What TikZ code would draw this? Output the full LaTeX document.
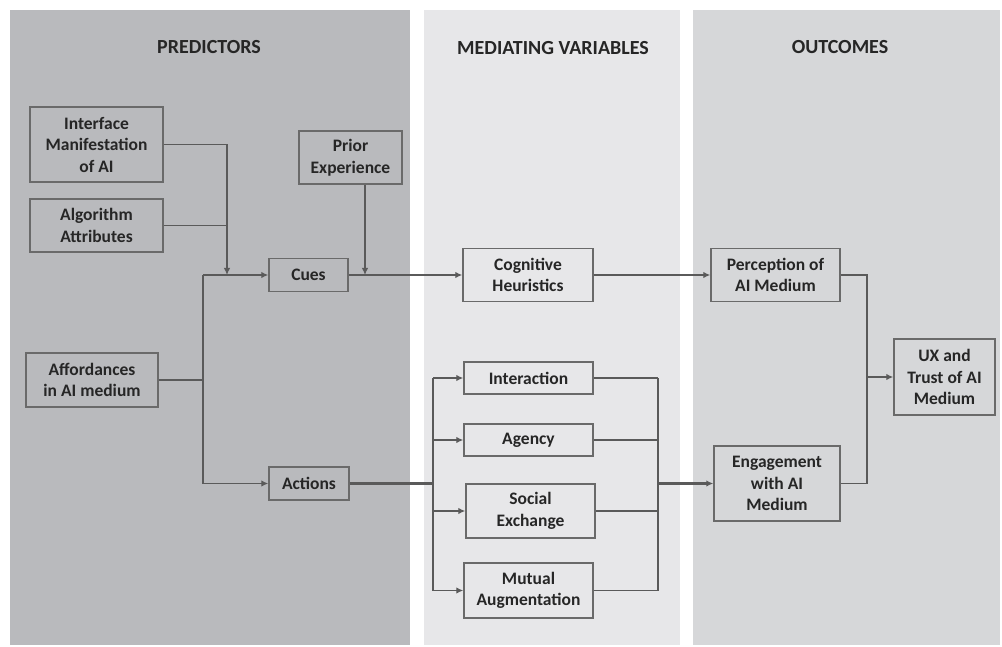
\documentclass[tikz,border=0pt]{standalone}
\usepackage{fontspec}
\setmainfont{Carlito}
\usetikzlibrary{arrows.meta}
\definecolor{pleft}{HTML}{B9BABD}
\definecolor{pmid}{HTML}{E7E7E9}
\definecolor{pright}{HTML}{D6D7D9}
\definecolor{ink}{HTML}{262626}
\definecolor{wire}{HTML}{5A5A5A}
\definecolor{edge}{HTML}{6A6A6A}
\tikzset{
  box/.style={draw=edge, line width=1.5pt, align=center, inner sep=2pt,
    font=\fontsize{17.5}{21.5}\selectfont\bfseries, text=ink},
  head/.style={font=\fontsize{20}{24}\selectfont\bfseries, text=ink},
  wireline/.style={draw=wire, line width=1.2pt},
  thickwire/.style={draw=wire, line width=2.4pt},
  arr/.style={-{Latex[length=7pt,width=6.5pt]}},
}
\begin{document}
\begin{tikzpicture}[x=1pt,y=-1pt]
\useasboundingbox (0,0) rectangle (1002,647);
\fill[white] (0,0) rectangle (1002,647);
% panels
\fill[pleft] (10,10) rectangle (410,645);
\fill[pmid] (424,10) rectangle (680,645);
\fill[pright] (693,10) rectangle (1000,645);
% headings
\node[head] (h1) at (209,47) {PREDICTORS};
\node[head] (h2) at (553,48) {MEDIATING VARIABLES};
\node[head] (h3) at (840,47) {OUTCOMES};
% nodes
\node[box, minimum width=133pt, minimum height=75pt] (ima) at (96.5,144.5) {Interface\\Manifestation\\of AI};
\node[box, minimum width=133pt, minimum height=53pt] (alg) at (96.5,225.5) {Algorithm\\Attributes};
\node[box, minimum width=103pt, minimum height=53pt] (pri) at (350.5,157.5) {Prior\\Experience};
\node[box, minimum width=79pt, minimum height=33pt] (cue) at (308.5,275) {Cues};
\node[box, minimum width=132pt, minimum height=54pt] (aff) at (92,380) {Affordances\\in AI medium};
\node[box, minimum width=80pt, minimum height=33pt] (act) at (309,483.5) {Actions};
\node[box, minimum width=130pt, minimum height=53pt] (cog) at (528,275) {Cognitive\\Heuristics};
\node[box, minimum width=129pt, minimum height=32pt] (int) at (528.5,378) {Interaction};
\node[box, minimum width=129pt, minimum height=32pt] (age) at (528.5,440) {Agency};
\node[box, minimum width=129pt, minimum height=54pt] (soc) at (530.5,511) {Social\\Exchange};
\node[box, minimum width=129pt, minimum height=55pt] (mut) at (528.5,590.5) {Mutual\\Augmentation};
\node[box, minimum width=129pt, minimum height=53pt] (per) at (775.5,275) {Perception of\\AI Medium};
\node[box, minimum width=126pt, minimum height=75pt] (eng) at (777,483.5) {Engagement\\with AI\\Medium};
\node[box, minimum width=101pt, minimum height=76pt] (ux) at (944.5,377) {UX and\\Trust of AI\\Medium};
% junction coordinates
\coordinate (ja) at (227,275);
\coordinate (jb) at (203,275);
\coordinate (jc) at (203,483.5);
\coordinate (jaff) at (203,380);
\coordinate (jp) at (365,275);
\coordinate (ml) at (433,483.5);
\coordinate (mr) at (658,483.5);
\coordinate (orr) at (867,377);
% predictors connectors
\draw[wireline, arr] (ima.east) -| (ja);
\draw[wireline] (alg.east) -- (alg.east -| ja);
\draw[wireline, arr] (jb) -- (cue.west);
\draw[wireline] (jb) -- (jc);
\draw[thickwire] (aff.east) -- (jaff);
\draw[wireline, arr] (jc) -- (act.west);
\draw[wireline, arr] (pri.south -| jp) -- (jp);
\draw[wireline, arr] (cue.east) -- (cog.west);
% actions to mediators
\draw[thickwire] (act.east) -- (ml);
\draw[wireline] (ml |- int.west) -- (ml |- mut.west);
\draw[wireline, arr] (ml |- int.west) -- (int.west);
\draw[wireline, arr] (ml |- age.west) -- (age.west);
\draw[wireline, arr] (ml |- soc.west) -- (soc.west);
\draw[wireline, arr] (ml |- mut.west) -- (mut.west);
% mediators to engagement
\draw[wireline] (int.east) -- (int.east -| mr);
\draw[wireline] (age.east) -- (age.east -| mr);
\draw[wireline] (soc.east) -- (soc.east -| mr);
\draw[wireline] (mut.east) -- (mut.east -| mr);
\draw[wireline] (mr |- int.east) -- (mr |- mut.east);
\draw[thickwire, arr] (mr) -- (eng.west);
% cognitive to perception
\draw[wireline, arr] (cog.east) -- (per.west);
% outcomes
\draw[wireline] (per.east) -| (orr);
\draw[wireline] (eng.east) -| (orr);
\draw[wireline, arr] (orr) -- (ux.west);
\end{tikzpicture}
\end{document}
